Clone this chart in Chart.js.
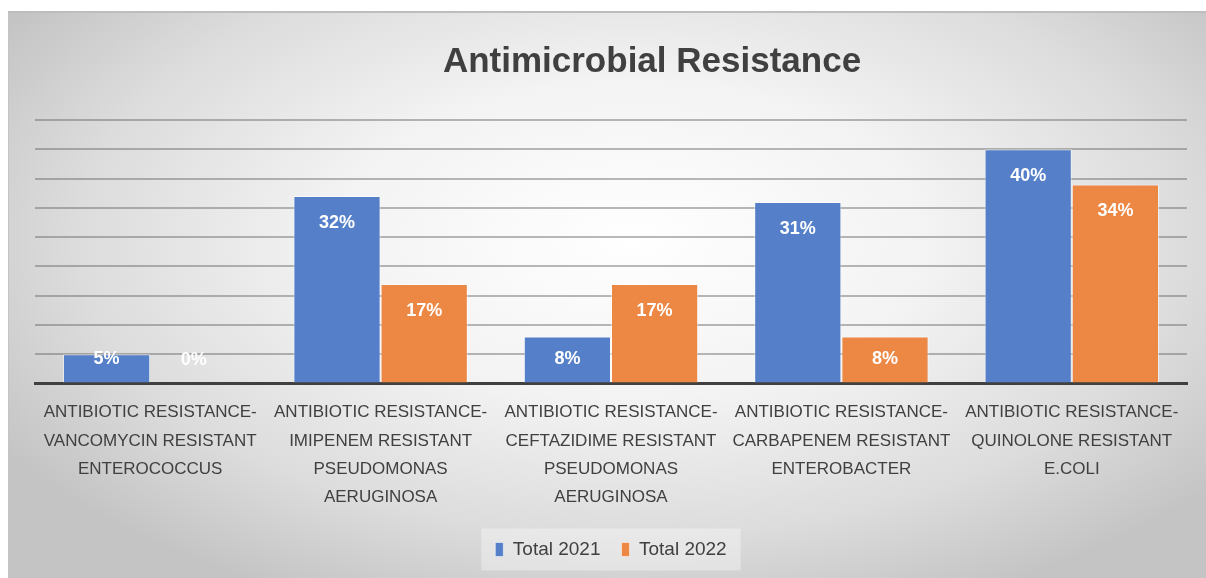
<!DOCTYPE html>
<html>
<head>
<meta charset="utf-8">
<script src="https://cdn.jsdelivr.net/npm/chart.js@4.4.0/dist/chart.umd.min.js"></script>
<style>
  html, body { margin: 0; padding: 0; background: #fff; }
  #frame {
    position: absolute; left: 8px; top: 11px; width: 1198px; height: 567px;
    border-top: 2px solid #bdbdbd; border-left: 1px solid #c4c4c4;
    background: radial-gradient(ellipse 62% 70% at 52% 40%, #ffffff 0%, #f3f3f3 40%, #dcdcdc 75%, #c4c4c4 100%);
  }
  #wrap { position: absolute; left: 0; top: 0; width: 1206px; height: 578px; }
</style>
</head>
<body>
<div id="frame"></div>
<div id="wrap"><canvas id="amrChart" width="1206" height="578"></canvas></div>
<script>
// categorias (etiquetas en varias lineas)
var categorias = [
  ['ANTIBIOTIC RESISTANCE-', 'VANCOMYCIN RESISTANT', 'ENTEROCOCCUS'],
  ['ANTIBIOTIC RESISTANCE-', 'IMIPENEM RESISTANT', 'PSEUDOMONAS', 'AERUGINOSA'],
  ['ANTIBIOTIC RESISTANCE-', 'CEFTAZIDIME RESISTANT', 'PSEUDOMONAS', 'AERUGINOSA'],
  ['ANTIBIOTIC RESISTANCE-', 'CARBAPENEM RESISTANT', 'ENTEROBACTER'],
  ['ANTIBIOTIC RESISTANCE-', 'QUINOLONE RESISTANT', 'E.COLI']
];
var total2021 = [5, 32, 8, 31, 40];
var total2022 = [0, 17, 17, 8, 34];
var titulo = 'Antimicrobial Resistance';

var fuente = '"Liberation Sans", Arial, sans-serif';

// titulo (centrado un poco a la derecha, como en el original)
var tituloPlugin = {
  id: 'tituloPlugin',
  afterDraw: function (chart) {
    var ctx = chart.ctx;
    ctx.save();
    ctx.fillStyle = '#404040';
    ctx.font = 'bold 35px ' + fuente;
    ctx.textAlign = 'center';
    ctx.textBaseline = 'middle';
    ctx.fillText(titulo, 652, 62);
    ctx.restore();
  }
};

// etiquetas de datos dentro de las barras
var etiquetasBarras = {
  id: 'etiquetasBarras',
  afterDatasetsDraw: function (chart) {
    var ctx = chart.ctx;
    ctx.save();
    ctx.fillStyle = '#ffffff';
    ctx.font = 'bold 18px ' + fuente;
    ctx.textAlign = 'center';
    ctx.textBaseline = 'middle';
    chart.data.datasets.forEach(function (ds, i) {
      chart.getDatasetMeta(i).data.forEach(function (bar, j) {
        var y = Math.min(bar.y + 27, bar.base - 23);
        ctx.fillText(ds.data[j] + '%', bar.x, y);
      });
    });
    ctx.restore();
  }
};

// fondo claro detras de la leyenda
var fondoLeyenda = {
  id: 'fondoLeyenda',
  beforeDraw: function (chart) {
    var lg = chart.legend;
    if (!lg || !lg.legendHitBoxes || !lg.legendHitBoxes.length) return;
    var cajas = lg.legendHitBoxes;
    var x0 = cajas[0].left - 14;
    var last = cajas[cajas.length - 1];
    var x1 = last.left + last.width + 14;
    var yc = cajas[0].top + cajas[0].height / 2;
    var ctx = chart.ctx;
    ctx.save();
    ctx.fillStyle = 'rgba(255,255,255,0.35)';
    ctx.fillRect(x0, yc - 21, x1 - x0, 42);
    ctx.restore();
  }
};

var amrConfig = {
  type: 'bar',
  data: {
    labels: categorias,
    datasets: [{
      label: 'Total 2021',
      data: total2021,
      backgroundColor: '#5580C9',
      borderColor: 'rgba(255,255,255,0.5)',
      borderWidth: 1,
      categoryPercentage: 0.757,
      barPercentage: 1.0
    }, {
      label: 'Total 2022',
      data: total2022,
      backgroundColor: '#EC8744',
      borderColor: 'rgba(255,255,255,0.5)',
      borderWidth: 1,
      categoryPercentage: 0.757,
      barPercentage: 1.0
    }]
  },
  options: {
    responsive: false,
    animation: false,
    layout: { padding: { left: 35, right: 19, top: 120, bottom: 9 } },
    plugins: {
      title: { display: false },
      legend: {
        position: 'bottom',
        labels: {
          color: '#404040',
          font: { family: fuente, size: 19 },
          boxWidth: 8,
          boxHeight: 14,
          padding: 21
        }
      },
      tooltip: { enabled: false }
    },
    scales: {
      x: {
        grid: { display: false },
        border: { display: true, color: '#404040', width: 3 },
        ticks: {
          color: '#404040',
          font: { family: fuente, size: 17, lineHeight: 1.67 },
          maxRotation: 0,
          autoSkip: false,
          padding: 7
        }
      },
      y: {
        min: 0,
        max: 45,
        ticks: { display: false, stepSize: 5 },
        grid: { color: 'rgba(100,100,100,0.45)', lineWidth: 2, drawTicks: false },
        border: { display: false }
      }
    }
  },
  plugins: [tituloPlugin, etiquetasBarras, fondoLeyenda]
};

var ctxAmr = document.getElementById('amrChart').getContext('2d');
var amrChart = new Chart(ctxAmr, amrConfig);
</script>
</body>
</html>
